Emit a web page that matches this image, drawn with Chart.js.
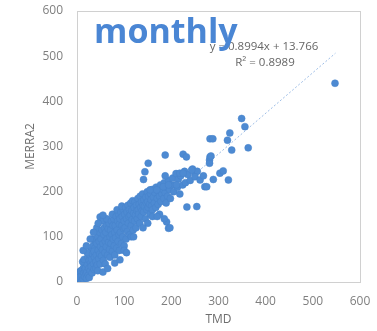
<!DOCTYPE html>
<html>
<head>
<meta charset="utf-8">
<script src="https://cdn.jsdelivr.net/npm/chart.js@4/dist/chart.umd.min.js"></script>
<style>
  html, body { margin: 0; padding: 0; background: #fff; }
  #wrap { width: 377px; height: 331px; }
</style>
</head>
<body>
<div id="wrap"><canvas id="myChart" width="377" height="331"></canvas></div>
<script>
const title = 'monthly';
const xTitle = 'TMD';
const yTitle = 'MERRA2';
const equation = 'y = 0.8994x + 13.766';
const rSquared = 'R\u00b2 = 0.8989';
const slope = 0.8994;
const intercept = 13.766;
const trendRange = [0, 548];

// TMD values (x) and MERRA2 values (y)
const tmd = [
  1, 2, 3, 4, 5, 6, 7, 8, 9, 10, 2, 5, 3, 8, 10,
  11, 12, 13, 14, 15, 16, 17, 18, 19, 20, 12, 15, 18,
  21, 22, 23, 24, 25, 26, 27, 28, 29, 30, 22, 26, 30,
  31, 32, 33, 34, 35, 36, 37, 38, 39, 40, 33, 36, 40,
  41, 42, 43, 44, 45, 46, 47, 48, 49, 50, 44, 48, 42, 49,
  51, 52, 53, 54, 55, 56, 57, 58, 59, 60, 55, 60,
  61, 62, 63, 64, 65, 66, 67, 68, 69, 70, 63, 70,
  71, 72, 73, 74, 75, 76, 77, 78, 79, 80, 75, 80,
  81, 82, 83, 84, 85, 86, 87, 88, 89, 90, 85, 90,
  91, 92, 93, 94, 95, 96, 97, 98, 99, 100, 95, 100,
  101, 102, 103, 104, 105, 106, 107, 108, 109, 110,
  111, 112, 113, 114, 115, 116, 117, 118, 119, 120, 115,
  121, 122, 123, 124, 125, 126, 127, 128, 129, 130,
  131, 132, 133, 134, 135, 136, 137, 138, 139, 140,
  141, 142, 143, 145, 146, 147, 148, 149, 150,
  151, 152, 154, 155, 156, 157, 158, 160, 160,
  162, 164, 165, 167, 168, 170, 172, 173, 175, 177, 178, 180,
  182, 184, 185, 187, 189, 190, 192, 194, 196, 198, 200,
  203, 205, 208, 210, 213, 215, 218, 220, 224, 228, 230, 235, 240, 245, 250, 255,
  190, 194, 197, 185, 175, 160, 150, 140, 120, 100, 233, 254, 170,
  141, 144, 151, 155, 169, 183, 187, 187, 194, 211, 218, 225, 225, 232, 243, 250, 261,
  268, 271, 275, 281, 281, 282, 282, 284, 288, 289, 303, 310, 319, 321, 324, 328,
  349, 356, 363, 547,
  55, 65, 80, 91, 105, 13, 20, 28, 35, 45, 55
];
const merra2 = [
  2, 5, 1, 8, 3, 12, 6, 15, 4, 10, 18, 22, 10, 25, 2,
  14, 28, 6, 20, 35, 12, 25, 40, 18, 8, 45, 50, 30,
  22, 38, 55, 15, 30, 48, 60, 25, 42, 70, 65, 10, 35,
  50, 20, 62, 80, 40, 28, 55, 75, 90, 45, 95, 68, 30,
  60, 85, 38, 100, 70, 52, 90, 110, 40, 78, 25, 62, 120, 144,
  95, 58, 115, 72, 85, 48, 105, 120, 65, 90, 135, 40,
  110, 78, 125, 95, 60, 118, 88, 130, 72, 100, 140, 55,
  115, 85, 135, 105, 68, 125, 95, 140, 80, 110, 150, 60,
  125, 98, 145, 75, 115, 135, 90, 150, 105, 128, 160, 70,
  140, 110, 155, 85, 125, 145, 100, 160, 118, 135, 168, 80,
  150, 120, 165, 95, 140, 155, 112, 170, 130, 145,
  160, 105, 148, 175, 125, 158, 138, 180, 115, 152, 100,
  165, 135, 178, 148, 120, 170, 158, 140, 185, 160,
  150, 172, 130, 190, 165, 145, 178, 158, 195, 170,
  155, 182, 168, 140, 188, 175, 160, 200, 178,
  165, 190, 172, 150, 195, 182, 168, 205, 160,
  188, 175, 198, 165, 210, 185, 172, 200, 190, 215, 178, 195,
  205, 185, 220, 198, 175, 210, 190, 225, 205, 185, 215,
  230, 200, 215, 240, 210, 228, 195, 235, 215, 245, 220, 238, 225, 250, 240, 245,
  133, 119, 120, 140, 150, 145, 130, 120, 100, 70, 166, 167, 145,
  227, 244, 263, 204, 204, 211, 281, 235, 215, 215, 241, 241, 283, 277, 248, 233, 226,
  235, 211, 211, 270, 263, 317, 277, 279, 317, 227, 241, 246, 314, 226, 330, 292,
  362, 344, 297, 440,
  22, 30, 42, 49, 65, 70, 80, 95, 110, 130, 148
];

const points = tmd.map((x, i) => ({ x: x, y: merra2[i] }));
const trend = trendRange.map((x) => ({ x: x, y: slope * x + intercept }));

const frameAndText = {
  id: 'frameAndText',
  beforeDatasetsDraw(chart) {
    const ctx = chart.ctx;
    const a = chart.chartArea;
    ctx.save();
    ctx.strokeStyle = '#d0d0d0';
    ctx.lineWidth = 1;
    ctx.strokeRect(a.left + 0.5, a.top + 0.5, a.right - a.left, a.bottom - a.top);
    ctx.restore();
  },
  afterDraw(chart) {
    const ctx = chart.ctx;
    ctx.save();
    ctx.fillStyle = '#666666';
    ctx.font = '11.5px "Open Sans"';
    ctx.textAlign = 'center';
    ctx.textBaseline = 'middle';
    ctx.fillText(equation, 264, 47);
    ctx.fillText(rSquared, 265, 63);
    ctx.fillStyle = '#4a86d4';
    ctx.font = 'bold 34px "Open Sans"';
    ctx.textAlign = 'left';
    ctx.textBaseline = 'alphabetic';
    ctx.fillText(title, 94, 43);
    ctx.restore();
  }
};

const ctx = document.getElementById('myChart');
const myChart = new Chart(ctx, {
  type: 'scatter',
  data: {
    datasets: [
      {
        label: 'monthly',
        data: points,
        backgroundColor: '#4d8ad2',
        borderColor: '#4682cb',
        borderWidth: 0.5,
        pointRadius: 3.5
      },
      {
        type: 'line',
        label: 'trend',
        data: trend,
        borderColor: '#9dbde6',
        borderWidth: 1,
        borderDash: [2, 2],
        pointRadius: 0,
        fill: false
      }
    ]
  },
  options: {
    responsive: false,
    animation: false,
    layout: { padding: { left: 0, right: 17, top: 11, bottom: 4 } },
    plugins: {
      legend: { display: false },
      tooltip: { enabled: false }
    },
    scales: {
      x: {
        type: 'linear',
        min: 0,
        max: 600,
        ticks: { stepSize: 100, color: '#7f7f7f', font: { family: 'Open Sans', size: 12 }, padding: 4 },
        grid: { display: false },
        border: { display: false },
        title: { display: true, text: xTitle, color: '#6e6e6e', font: { family: 'Open Sans', size: 12 }, padding: 0 },
        afterFit(scale) {
          scale.height = 45;
          scale.paddingLeft = 0;
          scale.paddingRight = 0;
        }
      },
      y: {
        min: 0,
        max: 600,
        ticks: { stepSize: 100, color: '#7f7f7f', font: { family: 'Open Sans', size: 12 }, padding: 14 },
        grid: { display: false, drawTicks: false },
        border: { display: false },
        title: { display: true, text: yTitle, color: '#6e6e6e', font: { family: 'Open Sans', size: 12 }, padding: { top: 23, bottom: 0 } },
        afterFit(scale) {
          scale.width = 77;
          scale.paddingTop = 0;
          scale.paddingBottom = 0;
        }
      }
    }
  },
  plugins: [frameAndText]
});
</script>
</body>
</html>
